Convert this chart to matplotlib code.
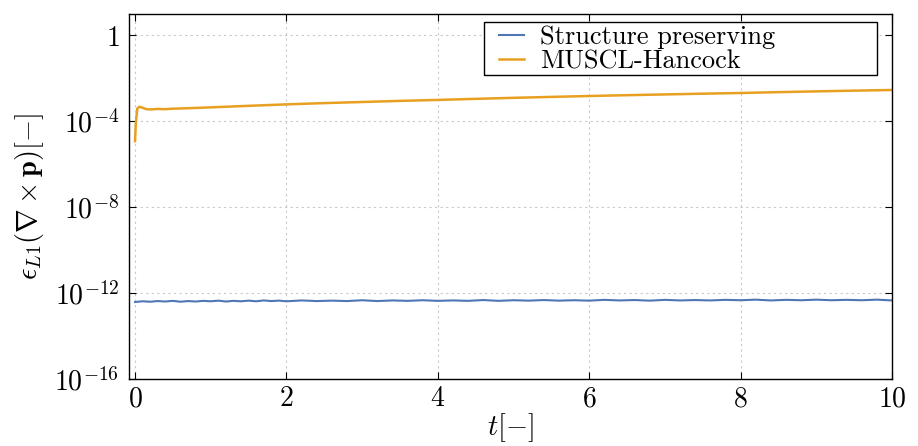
import matplotlib
matplotlib.use("Agg")
from matplotlib import pyplot as plt
from matplotlib.patches import Rectangle
import numpy as np

plt.rcParams['mathtext.fontset'] = 'cm'
plt.rcParams['font.family'] = 'serif'
plt.rcParams['font.serif'] = ['cmr10', 'DejaVu Serif']
plt.rcParams['axes.formatter.use_mathtext'] = True

# structure preserving scheme (noise floor)
t_sp = [0.0, 0.1, 0.2, 0.3, 0.4, 0.5, 0.6, 0.7, 0.8, 0.9, 1.0, 1.1, 1.2, 1.3, 1.4,
        1.5, 1.6, 1.7, 1.8, 1.9, 2.0, 2.2, 2.4, 2.6, 2.8, 3.0, 3.2, 3.4, 3.6, 3.8,
        4.0, 4.2, 4.4, 4.6, 4.8, 5.0, 5.2, 5.4, 5.6, 5.8, 6.0, 6.2, 6.4, 6.6, 6.8,
        7.0, 7.2, 7.4, 7.6, 7.8, 8.0, 8.2, 8.4, 8.6, 8.8, 9.0, 9.2, 9.4, 9.6, 9.8, 10.0]
err_sp = [3.9e-13, 4.2e-13, 4.0e-13, 4.3e-13, 4.1e-13, 4.4e-13, 4.0e-13, 4.3e-13,
          4.1e-13, 4.4e-13, 4.2e-13, 4.5e-13, 4.1e-13, 4.4e-13, 4.2e-13, 4.5e-13,
          4.2e-13, 4.6e-13, 4.3e-13, 4.5e-13, 4.2e-13, 4.6e-13, 4.3e-13, 4.5e-13,
          4.3e-13, 4.7e-13, 4.3e-13, 4.6e-13, 4.4e-13, 4.7e-13, 4.4e-13, 4.6e-13,
          4.4e-13, 4.8e-13, 4.4e-13, 4.7e-13, 4.5e-13, 4.8e-13, 4.5e-13, 4.7e-13,
          4.5e-13, 4.9e-13, 4.6e-13, 4.8e-13, 4.5e-13, 4.9e-13, 4.6e-13, 4.8e-13,
          4.6e-13, 4.9e-13, 4.7e-13, 5.0e-13, 4.6e-13, 4.9e-13, 4.7e-13, 5.0e-13,
          4.7e-13, 4.9e-13, 4.7e-13, 5.0e-13, 4.6e-13]

# MUSCL-Hancock
t_mh = [0.0, 0.01, 0.03, 0.06, 0.1, 0.15, 0.2, 0.3, 0.4, 0.5, 0.7, 1.0, 1.5, 2.0,
        2.5, 3.0, 3.5, 4.0, 4.5, 5.0, 5.5, 6.0, 6.5, 7.0, 7.5, 8.0, 8.5, 9.0, 9.5, 10.0]
err_mh = [1.2e-5, 8e-5, 4.0e-4, 4.8e-4, 4.3e-4, 3.7e-4, 3.6e-4, 3.8e-4, 3.7e-4,
          3.9e-4, 4.1e-4, 4.5e-4, 5.3e-4, 6.2e-4, 7.1e-4, 8.0e-4, 9.0e-4, 1.0e-3,
          1.12e-3, 1.25e-3, 1.38e-3, 1.52e-3, 1.66e-3, 1.8e-3, 1.95e-3, 2.1e-3,
          2.3e-3, 2.5e-3, 2.7e-3, 2.9e-3]

fig, ax = plt.subplots(figsize=(9.18, 4.46), dpi=100)
fig.subplots_adjust(left=0.1405, right=0.9717, top=0.9686, bottom=0.150)

ax.plot(t_sp, err_sp, color='#4f76b5', lw=1.5, label='Structure preserving')
ax.plot(t_mh, err_mh, color='#e8a021', lw=1.8, label='MUSCL-Hancock')

ax.set_yscale('log')
ax.set_ylim(1e-16, 1e1)
ax.set_xlim(-0.08, 10)
ax.set_yticks([1e-16, 1e-12, 1e-8, 1e-4, 1])
ax.set_yticklabels([r'$10^{-16}$', r'$10^{-12}$', r'$10^{-8}$', r'$10^{-4}$', r'$1$'])
ax.minorticks_off()
ax.set_xticks([0, 2, 4, 6, 8, 10])
ax.set_xticklabels([r'$0$', r'$2$', r'$4$', r'$6$', r'$8$', r'$10$'])
ax.tick_params(direction='in', length=5, width=0.8, top=True, right=True,
               labelsize=20, pad=7)
ax.tick_params(axis='x', pad=5)
ax.grid(True, color='#c8c8c8', linestyle=(0, (2, 3)), lw=0.8)
for s in ax.spines.values():
    s.set_linewidth(1.0)

ax.set_xlabel(r'$t[-]$', fontsize=20.5, labelpad=-1)
ax.set_ylabel(r'$\epsilon_{L1}(\nabla\times\mathbf{p})[-]$', fontsize=20.5, labelpad=6)

# legend box: wide frame like pgfplots
ax.add_patch(Rectangle((0.4653, 0.833), 0.515, 0.145, transform=ax.transAxes,
                       facecolor='white', edgecolor='black', lw=1.0, zorder=4,
                       clip_on=False))
leg = ax.legend(loc='upper left', bbox_to_anchor=(0.485, 0.968), fontsize=19,
                frameon=False, borderpad=0, labelspacing=0.0, handlelength=0.95,
                handletextpad=0.6, borderaxespad=0)
leg.set_zorder(5)

plt.savefig('out.png', dpi=100)
